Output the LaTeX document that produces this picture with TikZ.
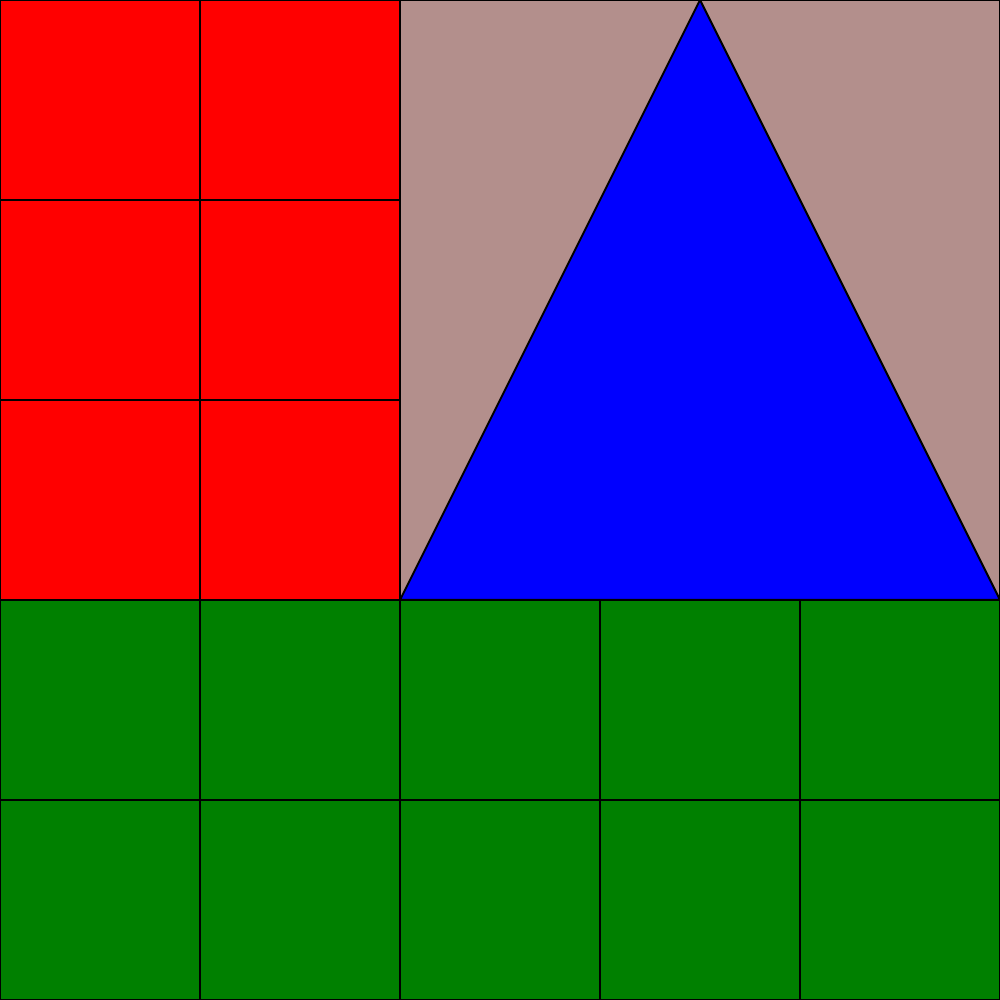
\documentclass[tikz,border=0pt]{standalone}
\definecolor{bgbrown}{HTML}{B38F8C}
\definecolor{grn}{HTML}{008000}
\tikzset{cell/.style={line width=0.02cm, draw=black}}
\begin{document}
\begin{tikzpicture}
\useasboundingbox (0,0) rectangle (10,10);
\clip (0,0) rectangle (10,10);
% brown background region
\fill[bgbrown] (4,4) rectangle (10,10);
% red cells
\foreach \x in {0,2}{\foreach \y in {4,6,8}{
  \draw[cell, fill=red] (\x,\y) rectangle ++(2,2);}}
% green cells
\foreach \x in {0,2,4,6,8}{\foreach \y in {0,2}{
  \draw[cell, fill=grn] (\x,\y) rectangle ++(2,2);}}
% outline of brown region
\draw[cell] (4,4) rectangle (10,10);
% triangle
\draw[cell, fill=blue, line join=miter] (4,4) -- (7,10) -- (10,4) -- cycle;
\end{tikzpicture}
\end{document}
